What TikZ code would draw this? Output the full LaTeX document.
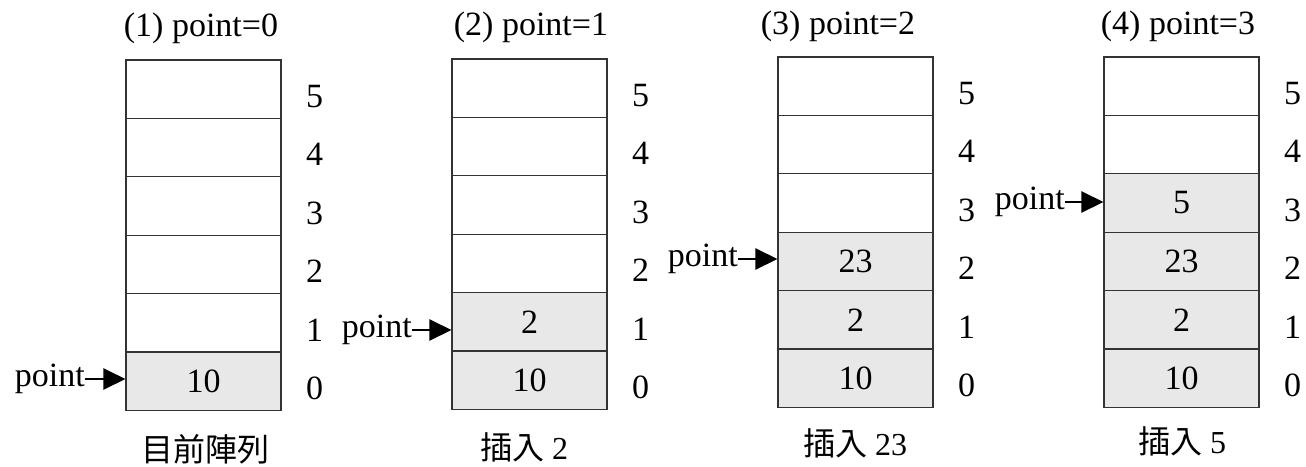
\documentclass[tikz,border=0pt]{standalone}
\usepackage{fontspec}
\setmainfont{Liberation Serif}
\newfontfamily\cjk{Noto Sans CJK TC}
\usetikzlibrary{arrows.meta}
\begin{document}
\begin{tikzpicture}[x=1pt,y=-1pt,
  cell/.style={draw=black!80, line width=1.1pt, minimum width=155pt, minimum height=58.4pt,
    inner sep=0pt, anchor=center, font=\fontsize{34}{40}\selectfont},
  full/.style={cell, fill=black!9},
  idx/.style={font=\fontsize{34}{40}\selectfont, inner sep=0pt},
  ttl/.style={font=\fontsize{34}{40}\selectfont, anchor=base, inner sep=0pt},
  ptr/.style={font=\fontsize{34}{40}\selectfont, anchor=east, inner sep=0pt},
  arr/.style={-{Triangle[length=22pt,width=21pt]}, line width=2.4pt},
  capt/.style={font=\fontsize{32}{38}\selectfont, inner sep=0pt}
]
\useasboundingbox (0,0) rectangle (1306,466);
\foreach \s/\x/\t/\n in {1/126/60/1, 2/452/59/2, 3/778/57/3, 4/1104/57/4} {
  \foreach \r in {0,...,5} {
    \pgfmathsetmacro\cy{\t + (5-\r)*58.4 + 29.2}
    \ifnum\r<\n
      \node[full] (s\s c\r) at (\x+77.5,\cy) {\ifcase\r\relax 10\or 2\or 23\or 5\fi};
    \else
      \node[cell] (s\s c\r) at (\x+77.5,\cy) {};
    \fi
    \node[idx] (s\s i\r) at (\x+188.5,\cy+7) {\r};
  }
}
% titles
\node[ttl] (t1) at (201,36) {(1) point=0};
\node[ttl] (t2) at (531,35) {(2) point=1};
\node[ttl] (t3) at (838,34) {(3) point=2};
\node[ttl] (t4) at (1178,34) {(4) point=3};
% captions
\node[capt] (b1) at (205,449) {\cjk 目前陣列};
\node[capt] (b2) at (524,447) {{\cjk 插入} 2};
\node[capt] (b3) at (855,443) {{\cjk 插入} 23};
\node[capt] (b4) at (1182,441) {{\cjk 插入} 5};
% pointers
\node[ptr] (p1) at (85,379) {point};
\node[ptr] (p2) at (412,330) {point};
\node[ptr] (p3) at (738,259) {point};
\node[ptr] (p4) at (1065,202) {point};
\draw[arr] (p1.east) -- (p1.east -| s1c0.west);
\draw[arr] (p2.east) -- (p2.east -| s2c1.west);
\draw[arr] (p3.east) -- (p3.east -| s3c2.west);
\draw[arr] (p4.east) -- (p4.east -| s4c3.west);
\end{tikzpicture}
\end{document}
